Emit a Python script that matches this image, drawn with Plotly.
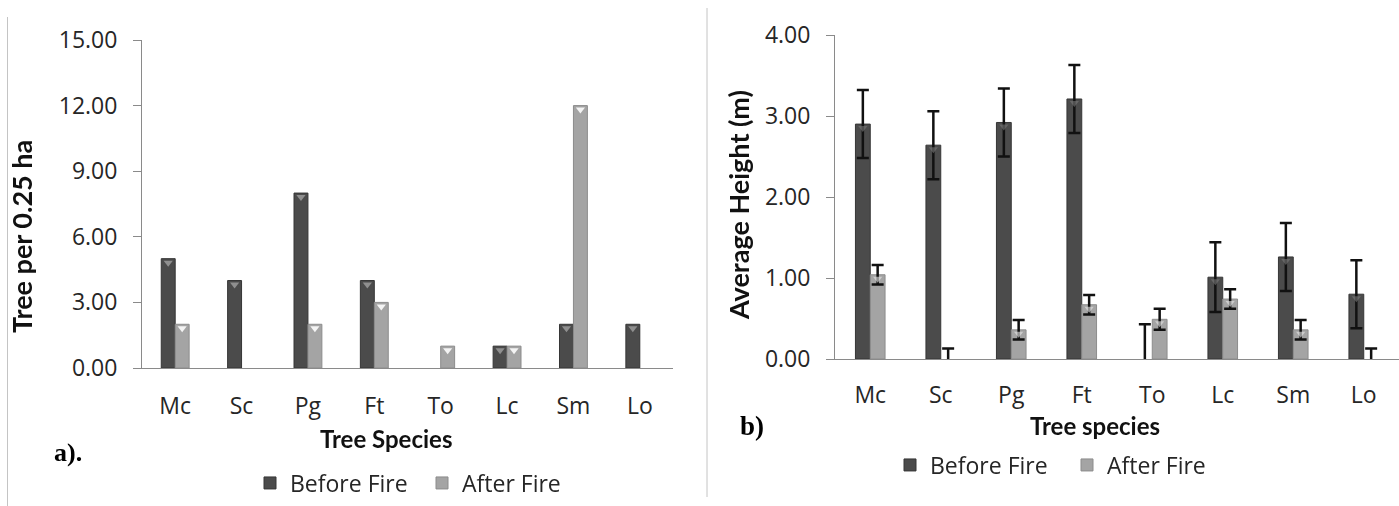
import plotly.graph_objects as go

species = ["Mc", "Sc", "Pg", "Ft", "To", "Lc", "Sm", "Lo"]
density_before = [5, 4, 8, 4, 0, 1, 2, 2]
density_after = [2, 0, 2, 3, 1, 1, 12, 0]
height_before = [2.90, 2.64, 2.92, 3.21, 0, 1.01, 1.26, 0.80]
height_before_err = [0.42, 0.42, 0.42, 0.42, 0.43, 0.43, 0.42, 0.42]
height_after = [1.04, 0, 0.36, 0.67, 0.49, 0.74, 0.36, 0]
height_after_err = [0.12, 0.13, 0.12, 0.12, 0.13, 0.12, 0.12, 0.13]
density_ticks = [0, 3, 6, 9, 12, 15]
height_ticks = [0, 1, 2, 3, 4]

W, H = 1399, 506
FONT = "'Open Sans', Lato, Calibri, sans-serif"
FONT_T = "Lato, Carlito, Calibri, sans-serif"
SERIF = "Liberation Serif, Times New Roman, serif"
DARK = "#4b4b4b"
DARK_LINE = "#363636"
LIGHT = "#a4a4a4"
LIGHT_LINE = "#8c8c8c"
AXIS = "#8a8a8a"
TEXT = "#262626"
BW = 0.21  # bar width in category units

xs = list(range(len(species)))


def px(x):
    return x / W


def py(y):
    return 1 - y / H


def lw(vals):
    return [0 if v == 0 else 1 for v in vals]


fig = go.Figure()

# ---- panel a) tree density ----
fig.add_trace(go.Bar(x=xs, y=density_before, width=BW, offset=-BW, name="Before Fire",
                     marker=dict(color=DARK, line=dict(color=DARK_LINE, width=lw(density_before))),
                     xaxis="x", yaxis="y", legend="legend"))
fig.add_trace(go.Bar(x=xs, y=density_after, width=BW, offset=0, name="After Fire",
                     marker=dict(color=LIGHT, line=dict(color=LIGHT_LINE, width=lw(density_after))),
                     xaxis="x", yaxis="y", legend="legend"))

# ---- panel b) average height ----
fig.add_trace(go.Bar(x=xs, y=height_before, width=BW, offset=-BW, name="Before Fire",
                     marker=dict(color=DARK, line=dict(color=DARK_LINE, width=lw(height_before))),
                     error_y=dict(type="data", array=height_before_err, color="#111111",
                                  thickness=2.5, width=6),
                     xaxis="x2", yaxis="y2", legend="legend2"))
fig.add_trace(go.Bar(x=xs, y=height_after, width=BW, offset=0, name="After Fire",
                     marker=dict(color=LIGHT, line=dict(color=LIGHT_LINE, width=lw(height_after))),
                     error_y=dict(type="data", array=height_after_err, color="#111111",
                                  thickness=2.5, width=6),
                     xaxis="x2", yaxis="y2", legend="legend2"))

# small triangle "caps" on top of each bar (Excel 3-D style)
a_top, a_bot = 40, 368
b_top, b_bot = 35, 359
a_unit = 15 / (a_bot - a_top)
b_unit = 4 / (b_bot - b_top)


def tri(vals, shift, unit, color, xa, ya, opacity):
    return go.Scatter(
        x=[i + shift for i in xs],
        y=[v - 4 * unit if v > 0 else None for v in vals],
        mode="markers",
        marker=dict(symbol="triangle-down", size=8, color=color, line=dict(width=0)),
        opacity=opacity, showlegend=False, hoverinfo="skip", xaxis=xa, yaxis=ya)


fig.add_trace(tri(density_before, -BW / 2, a_unit, "#8f8f8f", "x", "y", 1))
fig.add_trace(tri(density_after, BW / 2, a_unit, "#f4f4f4", "x", "y", 1))
fig.add_trace(tri(height_before, -BW / 2, b_unit, "#7a7a7a", "x2", "y2", 0.6))
fig.add_trace(tri(height_after, BW / 2, b_unit, "#e8e8e8", "x2", "y2", 0.6))

axis_common = dict(showgrid=False, zeroline=False, showline=True, linecolor=AXIS,
                   linewidth=1, automargin=False,
                   tickfont=dict(family=FONT, size=23, color=TEXT))

fig.update_layout(
    width=W, height=H,
    margin=dict(l=0, r=0, t=0, b=0, autoexpand=False),
    paper_bgcolor="white", plot_bgcolor="white",
    barmode="overlay",
    font=dict(family=FONT, color=TEXT),
    xaxis=dict(domain=[px(142), px(673)], range=[-0.5, 7.5], tickvals=xs, ticktext=species,
               ticks="", ticklabelstandoff=17, anchor="y", **axis_common),
    yaxis=dict(domain=[py(a_bot), py(a_top)], range=[0, 15], tickvals=density_ticks,
               tickformat=".2f", ticks="outside", ticklen=8, tickcolor=AXIS,
               ticklabelstandoff=11, anchor="x", **axis_common),
    xaxis2=dict(domain=[px(835), 1.0], range=[-0.5, 7.5], tickvals=xs, ticktext=species,
                ticks="", ticklabelstandoff=15, anchor="y2", **axis_common),
    yaxis2=dict(domain=[py(b_bot), py(b_top)], range=[0, 4], tickvals=height_ticks,
                tickformat=".2f", ticks="outside", ticklen=8, tickcolor=AXIS,
                ticklabelstandoff=11, anchor="x2", **axis_common),
    legend=dict(orientation="h", x=px(250), y=py(483), xanchor="left", yanchor="middle",
                font=dict(family=FONT, size=23, color=TEXT), bgcolor="rgba(0,0,0,0)",
                traceorder="normal", entrywidth=127, entrywidthmode="pixels"),
    legend2=dict(orientation="h", x=px(890), y=py(465), xanchor="left", yanchor="middle",
                 font=dict(family=FONT, size=23, color=TEXT), bgcolor="rgba(0,0,0,0)",
                 traceorder="normal", entrywidth=132, entrywidthmode="pixels"),
    showlegend=True,
)

annotations = [
    dict(text="<b>Tree per 0.25 ha</b>", x=px(22), y=py(237), textangle=-90,
         font=dict(family=FONT_T, size=27, color="#111111")),
    dict(text="<b>Tree Species</b>", x=px(386), y=py(438),
         font=dict(family=FONT_T, size=24, color="#111111")),
    dict(text="<b>a).</b>", x=px(68), y=py(452),
         font=dict(family=SERIF, size=26, color="#000000")),
    dict(text="<b>Average Height (m)</b>", x=px(738), y=py(205), textangle=-90,
         font=dict(family=FONT_T, size=27, color="#111111")),
    dict(text="<b>Tree species</b>", x=px(1095), y=py(425),
         font=dict(family=FONT_T, size=24, color="#111111")),
    dict(text="<b>b)</b>", x=px(752), y=py(426),
         font=dict(family=SERIF, size=27, color="#000000")),
]
for a in annotations:
    a.update(xref="paper", yref="paper", showarrow=False, xanchor="center", yanchor="middle")
fig.update_layout(annotations=annotations)

fig.update_layout(shapes=[
    dict(type="line", xref="paper", yref="paper", x0=px(7.5), x1=px(7.5), y0=py(506), y1=py(17),
         line=dict(color="#c4c4c4", width=1)),
    dict(type="line", xref="paper", yref="paper", x0=px(707), x1=px(707), y0=py(497), y1=py(8),
         line=dict(color="#c4c4c4", width=1)),
])

fig.write_html("out.html")
